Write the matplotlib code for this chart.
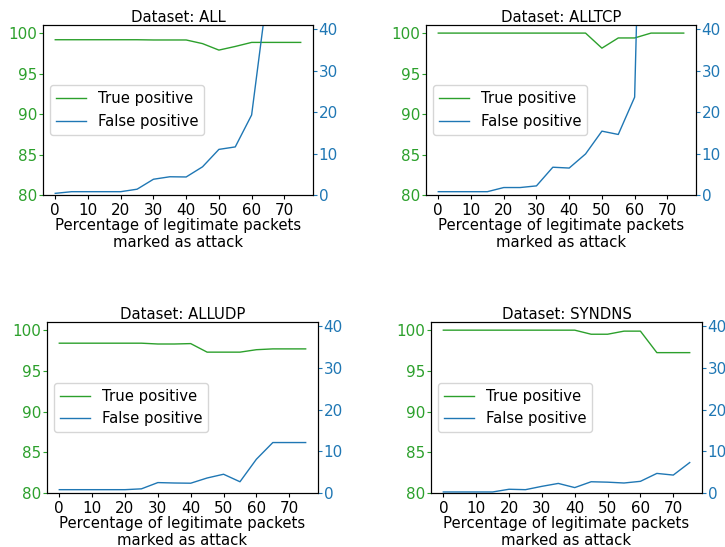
import matplotlib
matplotlib.use('Agg')
import matplotlib.pyplot as plt

plt.rcParams['font.size'] = 10.7
plt.rcParams['xtick.labelsize'] = 10.9
plt.rcParams['ytick.labelsize'] = 10.9
plt.rcParams['xtick.major.size'] = 2.6
plt.rcParams['ytick.major.size'] = 2.9
plt.rcParams['xtick.major.pad'] = 3.0
plt.rcParams['ytick.major.pad'] = 1.2

pct = [0, 5, 10, 15, 20, 25, 30, 35, 40, 45, 50, 55, 60, 65, 70, 75]
datasets = ['ALL', 'ALLTCP', 'ALLUDP', 'SYNDNS']

tp_all = [99.18, 99.18, 99.18, 99.18, 99.18, 99.18, 99.15, 99.15, 99.15, 98.7, 97.9, 98.35, 98.85, 98.85, 98.85, 98.85]
fp_all = [0.4, 0.8, 0.8, 0.8, 0.8, 1.4, 3.8, 4.4, 4.35, 6.8, 11.0, 11.6, 19.3, 50.0, 60.0, 70.0]

tp_alltcp = [100, 100, 100, 100, 100, 100, 100, 100, 100, 100, 98.14, 99.4, 99.4, 100, 100, 100]
fp_alltcp = [0.8, 0.8, 0.8, 0.8, 1.8, 1.8, 2.2, 6.7, 6.5, 9.9, 15.4, 14.6, 23.6, 180.0, 200.0, 220.0]

tp_alludp = [98.4, 98.4, 98.4, 98.4, 98.4, 98.4, 98.3, 98.3, 98.35, 97.3, 97.3, 97.3, 97.6, 97.7, 97.7, 97.7]
fp_alludp = [0.8, 0.8, 0.8, 0.8, 0.8, 1.0, 2.5, 2.4, 2.35, 3.6, 4.5, 2.7, 8.1, 12.1, 12.1, 12.1]

tp_syndns = [100, 100, 100, 100, 100, 100, 100, 100, 100, 99.5, 99.5, 99.88, 99.88, 97.24, 97.24, 97.24]
fp_syndns = [0.25, 0.25, 0.25, 0.25, 0.9, 0.8, 1.6, 2.3, 1.3, 2.7, 2.6, 2.4, 2.8, 4.7, 4.3, 7.3]

tp = [tp_all, tp_alltcp, tp_alludp, tp_syndns]
fp = [fp_all, fp_alltcp, fp_alludp, fp_syndns]

# axes boxes (left, bottom, width, height) in figure fractions
boxes = [
    (0.0593, 0.6435, 0.3724, 0.3108),
    (0.5876, 0.6435, 0.3724, 0.3108),
    (0.0648, 0.0987, 0.3738, 0.3126),
    (0.5945, 0.0987, 0.3738, 0.3126),
]

fig = plt.figure(figsize=(7.25, 5.47), dpi=100)

for i, name in enumerate(datasets):
    ax1 = fig.add_axes(boxes[i])
    ax2 = ax1.twinx()
    l1, = ax1.plot(pct, tp[i], color='tab:green', lw=1.0, label='True positive')
    l2, = ax2.plot(pct, fp[i], color='tab:blue', lw=1.0, label='False positive')
    ax1.set_ylim(80, 101)
    ax2.set_ylim(0, 41)
    ax1.set_yticks([80, 85, 90, 95, 100])
    ax2.set_yticks([0, 10, 20, 30, 40])
    ax1.set_xticks(range(0, 80, 10))
    ax1.tick_params(axis='y', colors='tab:green')
    ax2.tick_params(axis='y', colors='tab:blue')
    ax1.set_xlabel('Percentage of legitimate packets\nmarked as attack',
                   labelpad=0.5, linespacing=1.1)
    ax1.set_title('Dataset: ' + name, fontsize=10.7, pad=2.2)
    ax1.legend([l1, l2], ['True positive', 'False positive'], loc='center left')

fig.savefig('out.png', dpi=100)
